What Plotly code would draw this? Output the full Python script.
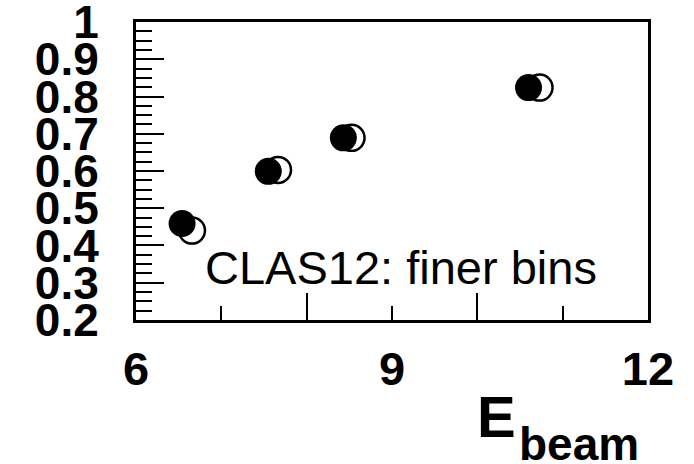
import plotly.graph_objects as go

# Data
e_filled = [6.54, 7.55, 8.43, 10.60]
r_filled = [0.459, 0.599, 0.689, 0.824]
e_open = [6.656, 7.664, 8.526, 10.729]
r_open = [0.440, 0.603, 0.689, 0.824]

y_tickvals = [0.2, 0.3, 0.4, 0.5, 0.6, 0.7, 0.8, 0.9, 1.0]
y_ticktext = ["0.2", "0.3", "0.4", "0.5", "0.6", "0.7", "0.8", "0.9", "1"]
x_labelvals = [6, 9, 12]
x_labeltext = ["6", "9", "12"]
x_majorticks = [8, 10]

FONT = "Liberation Sans, Arial, Helvetica, sans-serif"

fig = go.Figure()
fig.add_trace(go.Scatter(
    x=e_open, y=r_open, mode="markers",
    marker=dict(symbol="circle", size=26, color="white",
                line=dict(color="black", width=2.5)),
    showlegend=False, hoverinfo="skip"))
fig.add_trace(go.Scatter(
    x=e_filled, y=r_filled, mode="markers",
    marker=dict(symbol="circle", size=27, color="black",
                line=dict(color="black", width=0)),
    showlegend=False, hoverinfo="skip"))

fig.update_layout(
    width=694, height=464,
    margin=dict(l=136, r=46, t=22, b=144, autoexpand=False),
    paper_bgcolor="white", plot_bgcolor="white",
    showlegend=False,
    xaxis=dict(
        range=[6, 12], showgrid=False, zeroline=False, automargin=False,
        showline=True, mirror=True, linecolor="black", linewidth=3,
        tickmode="array", tickvals=x_majorticks, ticktext=["" for _ in x_majorticks],
        ticks="inside", ticklen=27, tickwidth=2, tickcolor="black",
        minor=dict(dtick=1, tick0=6, ticks="inside", ticklen=14,
                   tickwidth=2, tickcolor="black", showgrid=False),
    ),
    xaxis2=dict(
        overlaying="x", matches="x", range=[6, 12], side="bottom",
        showgrid=False, zeroline=False, showline=False, automargin=False,
        tickmode="array", tickvals=x_labelvals, ticktext=x_labeltext,
        ticks="", ticklabelstandoff=17, ticklabeloverflow="allow",
        tickfont=dict(family=FONT, size=47, color="black", weight="bold"),
    ),
    yaxis=dict(
        range=[0.1999, 1.0001], showgrid=False, zeroline=False, automargin=False,
        showline=True, mirror=True, linecolor="black", linewidth=3,
        tickmode="array", tickvals=y_tickvals, ticktext=y_ticktext,
        ticks="inside", ticklen=28, tickwidth=2, tickcolor="black",
        ticklabelstandoff=25, ticklabeloverflow="allow",
        tickfont=dict(family=FONT, size=46, color="black", weight="bold"),
        minor=dict(dtick=0.025, tick0=0.2, ticks="inside", ticklen=16,
                   tickwidth=2, tickcolor="black", showgrid=False),
    ),
)

# invisible trace so xaxis2 is drawn
fig.add_trace(go.Scatter(x=[6], y=[0.2], xaxis="x2", mode="markers",
                         marker=dict(opacity=0), showlegend=False, hoverinfo="skip"))

fig.add_annotation(
    x=9.11, y=0.342, xref="x", yref="y", text="CLAS12: finer bins",
    showarrow=False, xanchor="center", yanchor="middle",
    font=dict(family=FONT, size=47, color="black"))

# axis title E_beam (main letter + subscript)
fig.add_annotation(
    x=0.746, y=-0.207, xref="paper", yref="paper",
    text="<b>E</b>", showarrow=False,
    xanchor="right", yanchor="top",
    font=dict(family=FONT, size=58, color="black"))
fig.add_annotation(
    x=0.744, y=-0.323, xref="paper", yref="paper",
    text="<b>beam</b>", showarrow=False,
    xanchor="left", yanchor="top",
    font=dict(family=FONT, size=46, color="black"))

fig.write_html("out.html")
